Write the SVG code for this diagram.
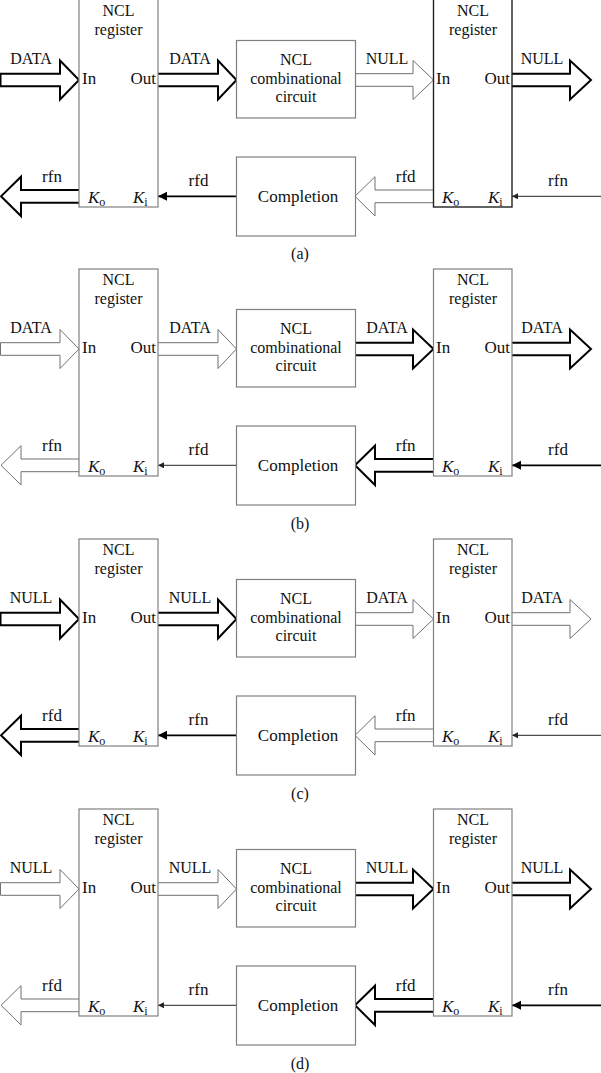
<svg xmlns="http://www.w3.org/2000/svg" width="601" height="1073" viewBox="0 0 601 1073">
<defs>
<style>
text{font-family:"Liberation Serif","Times New Roman",serif;fill:#111}
.t{font-size:17px}
.n{font-size:16px;text-anchor:middle}
.lb{font-size:16px;text-anchor:middle}
.c{text-anchor:middle}
.e{text-anchor:end}
.k{font-style:italic}
.sub{font-size:12px;font-style:normal}
.box{fill:#fff;stroke:#808080;stroke-width:1.2}
.boxd{fill:#fff;stroke:#222;stroke-width:1.4}
.fa{fill:#fff;stroke:#000;stroke-width:2;stroke-linejoin:miter}
.ft{fill:#fff;stroke:#707070;stroke-width:1}
.la{stroke:#000;stroke-width:1.8;fill:none}
.lt{stroke:#222;stroke-width:1;fill:none}
</style>
<marker id="hA" markerUnits="userSpaceOnUse" markerWidth="10" markerHeight="10" refX="9" refY="4.5" orient="auto"><path d="M0,0 L9,4.5 L0,9 Z" fill="#000"/></marker>
<marker id="hT" markerUnits="userSpaceOnUse" markerWidth="7" markerHeight="7" refX="6" refY="3" orient="auto"><path d="M0,0 L6,3 L0,6 Z" fill="#222"/></marker>
</defs>

<!-- ============ Panel (a) ============ -->
<g id="panel-a">
<g id="a-connectors">
<path class="fa" d="M0.5,73.7 L60,73.7 L60,60.5 L79,80 L60,99.5 L60,86.3 L0.5,86.3 Z"/>
<path class="fa" d="M158,73.7 L218,73.7 L218,60.5 L236.5,80 L218,99.5 L218,86.3 L158,86.3"/>
<path class="ft" d="M356,73.7 L413,73.7 L413,60.5 L433.5,80 L413,99.5 L413,86.3 L356,86.3"/>
<path class="fa" d="M512,73.7 L570,73.7 L570,60.5 L591,80 L570,99.5 L570,86.3 L512,86.3"/>
<path class="fa" d="M79,190 L21,190 L21,176.7 L1,196.3 L21,216 L21,202.7 L79,202.7"/>
<line class="la" x1="236.5" y1="196.3" x2="158" y2="196.3" marker-end="url(#hA)"/>
<path class="ft" d="M434,190 L375,190 L375,176.7 L355,196.3 L375,216 L375,202.7 L434,202.7"/>
<line class="lt" x1="601" y1="196.3" x2="512" y2="196.3" marker-end="url(#hT)"/>
<text class="lb" x="31" y="64">DATA</text>
<text class="lb" x="190" y="64">DATA</text>
<text class="lb" x="387" y="64">NULL</text>
<text class="lb" x="542" y="64">NULL</text>
<text class="t c" x="52" y="182">rfn</text>
<text class="t c" x="198.5" y="186">rfd</text>
<text class="t c" x="405.7" y="182">rfd</text>
<text class="t c" x="558" y="186">rfn</text>
</g>
<g id="a-reg1">
<rect class="box" x="79" y="-1" width="79" height="208"/>
<text class="n" x="118.5" y="16">NCL</text>
<text class="n" x="118.5" y="34.5">register</text>
<text class="t" x="82" y="84">In</text>
<text class="t e" x="156" y="84">Out</text>
<text class="t k" x="88" y="203">K<tspan class="sub" dy="3">o</tspan></text>
<text class="t k" x="133" y="203">K<tspan class="sub" dy="3">i</tspan></text>
</g>
<g id="a-comb">
<rect class="box" x="236.5" y="40.5" width="119" height="77.5"/>
<text class="n" x="296" y="65">NCL</text>
<text class="n" x="296" y="83.5">combinational</text>
<text class="n" x="296" y="102">circuit</text>
</g>
<g id="a-comp">
<rect class="box" x="236.5" y="157" width="119" height="79"/>
<text class="t c" x="298" y="202">Completion</text>
</g>
<g id="a-reg2">
<rect class="boxd" x="433.5" y="-1" width="78.5" height="208"/>
<text class="n" x="473" y="16">NCL</text>
<text class="n" x="473" y="34.5">register</text>
<text class="t" x="436" y="84">In</text>
<text class="t e" x="510" y="84">Out</text>
<text class="t k" x="442" y="203">K<tspan class="sub" dy="3">o</tspan></text>
<text class="t k" x="488" y="203">K<tspan class="sub" dy="3">i</tspan></text>
</g>
<text id="a-caption" class="lb" x="300" y="259">(a)</text>
</g>

<!-- ============ Panel (b) ============ -->
<g id="panel-b" transform="translate(0,269)">
<g id="b-connectors">
<path class="ft" d="M0.5,73.7 L60,73.7 L60,60.5 L79,80 L60,99.5 L60,86.3 L0.5,86.3 Z"/>
<path class="ft" d="M158,73.7 L218,73.7 L218,60.5 L236.5,80 L218,99.5 L218,86.3 L158,86.3"/>
<path class="fa" d="M356,73.7 L413,73.7 L413,60.5 L433.5,80 L413,99.5 L413,86.3 L356,86.3"/>
<path class="fa" d="M512,73.7 L570,73.7 L570,60.5 L591,80 L570,99.5 L570,86.3 L512,86.3"/>
<path class="ft" d="M79,190 L21,190 L21,176.7 L1,196.3 L21,216 L21,202.7 L79,202.7"/>
<line class="lt" x1="236.5" y1="196.3" x2="158" y2="196.3" marker-end="url(#hT)"/>
<path class="fa" d="M434,190 L375,190 L375,176.7 L355,196.3 L375,216 L375,202.7 L434,202.7"/>
<line class="la" x1="601" y1="196.3" x2="512" y2="196.3" marker-end="url(#hA)"/>
<text class="lb" x="31" y="64">DATA</text>
<text class="lb" x="190" y="64">DATA</text>
<text class="lb" x="387" y="64">DATA</text>
<text class="lb" x="542" y="64">DATA</text>
<text class="t c" x="52" y="182">rfn</text>
<text class="t c" x="198.5" y="186">rfd</text>
<text class="t c" x="405.7" y="182">rfn</text>
<text class="t c" x="558" y="186">rfd</text>
</g>
<g id="b-reg1">
<rect class="box" x="79" y="0" width="79" height="207"/>
<text class="n" x="118.5" y="16">NCL</text>
<text class="n" x="118.5" y="34.5">register</text>
<text class="t" x="82" y="84">In</text>
<text class="t e" x="156" y="84">Out</text>
<text class="t k" x="88" y="203">K<tspan class="sub" dy="3">o</tspan></text>
<text class="t k" x="133" y="203">K<tspan class="sub" dy="3">i</tspan></text>
</g>
<g id="b-comb">
<rect class="box" x="236.5" y="40.5" width="119" height="77.5"/>
<text class="n" x="296" y="65">NCL</text>
<text class="n" x="296" y="83.5">combinational</text>
<text class="n" x="296" y="102">circuit</text>
</g>
<g id="b-comp">
<rect class="box" x="236.5" y="157" width="119" height="79"/>
<text class="t c" x="298" y="202">Completion</text>
</g>
<g id="b-reg2">
<rect class="box" x="433.5" y="0" width="78.5" height="207"/>
<text class="n" x="473" y="16">NCL</text>
<text class="n" x="473" y="34.5">register</text>
<text class="t" x="436" y="84">In</text>
<text class="t e" x="510" y="84">Out</text>
<text class="t k" x="442" y="203">K<tspan class="sub" dy="3">o</tspan></text>
<text class="t k" x="488" y="203">K<tspan class="sub" dy="3">i</tspan></text>
</g>
<text id="b-caption" class="lb" x="300" y="260">(b)</text>
</g>

<!-- ============ Panel (c) ============ -->
<g id="panel-c" transform="translate(0,539)">
<g id="c-connectors">
<path class="fa" d="M0.5,73.7 L60,73.7 L60,60.5 L79,80 L60,99.5 L60,86.3 L0.5,86.3 Z"/>
<path class="fa" d="M158,73.7 L218,73.7 L218,60.5 L236.5,80 L218,99.5 L218,86.3 L158,86.3"/>
<path class="ft" d="M356,73.7 L413,73.7 L413,60.5 L433.5,80 L413,99.5 L413,86.3 L356,86.3"/>
<path class="ft" d="M512,73.7 L570,73.7 L570,60.5 L591,80 L570,99.5 L570,86.3 L512,86.3"/>
<path class="fa" d="M79,190 L21,190 L21,176.7 L1,196.3 L21,216 L21,202.7 L79,202.7"/>
<line class="la" x1="236.5" y1="196.3" x2="158" y2="196.3" marker-end="url(#hA)"/>
<path class="ft" d="M434,190 L375,190 L375,176.7 L355,196.3 L375,216 L375,202.7 L434,202.7"/>
<line class="lt" x1="601" y1="196.3" x2="512" y2="196.3" marker-end="url(#hT)"/>
<text class="lb" x="31" y="64">NULL</text>
<text class="lb" x="190" y="64">NULL</text>
<text class="lb" x="387" y="64">DATA</text>
<text class="lb" x="542" y="64">DATA</text>
<text class="t c" x="52" y="182">rfd</text>
<text class="t c" x="198.5" y="186">rfn</text>
<text class="t c" x="405.7" y="182">rfn</text>
<text class="t c" x="558" y="186">rfd</text>
</g>
<g id="c-reg1">
<rect class="box" x="79" y="0" width="79" height="207"/>
<text class="n" x="118.5" y="16">NCL</text>
<text class="n" x="118.5" y="34.5">register</text>
<text class="t" x="82" y="84">In</text>
<text class="t e" x="156" y="84">Out</text>
<text class="t k" x="88" y="203">K<tspan class="sub" dy="3">o</tspan></text>
<text class="t k" x="133" y="203">K<tspan class="sub" dy="3">i</tspan></text>
</g>
<g id="c-comb">
<rect class="box" x="236.5" y="40.5" width="119" height="77.5"/>
<text class="n" x="296" y="65">NCL</text>
<text class="n" x="296" y="83.5">combinational</text>
<text class="n" x="296" y="102">circuit</text>
</g>
<g id="c-comp">
<rect class="box" x="236.5" y="157" width="119" height="79"/>
<text class="t c" x="298" y="202">Completion</text>
</g>
<g id="c-reg2">
<rect class="box" x="433.5" y="0" width="78.5" height="207"/>
<text class="n" x="473" y="16">NCL</text>
<text class="n" x="473" y="34.5">register</text>
<text class="t" x="436" y="84">In</text>
<text class="t e" x="510" y="84">Out</text>
<text class="t k" x="442" y="203">K<tspan class="sub" dy="3">o</tspan></text>
<text class="t k" x="488" y="203">K<tspan class="sub" dy="3">i</tspan></text>
</g>
<text id="c-caption" class="lb" x="300" y="260">(c)</text>
</g>

<!-- ============ Panel (d) ============ -->
<g id="panel-d" transform="translate(0,809)">
<g id="d-connectors">
<path class="ft" d="M0.5,73.7 L60,73.7 L60,60.5 L79,80 L60,99.5 L60,86.3 L0.5,86.3 Z"/>
<path class="ft" d="M158,73.7 L218,73.7 L218,60.5 L236.5,80 L218,99.5 L218,86.3 L158,86.3"/>
<path class="fa" d="M356,73.7 L413,73.7 L413,60.5 L433.5,80 L413,99.5 L413,86.3 L356,86.3"/>
<path class="fa" d="M512,73.7 L570,73.7 L570,60.5 L591,80 L570,99.5 L570,86.3 L512,86.3"/>
<path class="ft" d="M79,190 L21,190 L21,176.7 L1,196.3 L21,216 L21,202.7 L79,202.7"/>
<line class="lt" x1="236.5" y1="196.3" x2="158" y2="196.3" marker-end="url(#hT)"/>
<path class="fa" d="M434,190 L375,190 L375,176.7 L355,196.3 L375,216 L375,202.7 L434,202.7"/>
<line class="la" x1="601" y1="196.3" x2="512" y2="196.3" marker-end="url(#hA)"/>
<text class="lb" x="31" y="64">NULL</text>
<text class="lb" x="190" y="64">NULL</text>
<text class="lb" x="387" y="64">NULL</text>
<text class="lb" x="542" y="64">NULL</text>
<text class="t c" x="52" y="182">rfd</text>
<text class="t c" x="198.5" y="186">rfn</text>
<text class="t c" x="405.7" y="182">rfd</text>
<text class="t c" x="558" y="186">rfn</text>
</g>
<g id="d-reg1">
<rect class="box" x="79" y="0" width="79" height="207"/>
<text class="n" x="118.5" y="16">NCL</text>
<text class="n" x="118.5" y="34.5">register</text>
<text class="t" x="82" y="84">In</text>
<text class="t e" x="156" y="84">Out</text>
<text class="t k" x="88" y="203">K<tspan class="sub" dy="3">o</tspan></text>
<text class="t k" x="133" y="203">K<tspan class="sub" dy="3">i</tspan></text>
</g>
<g id="d-comb">
<rect class="box" x="236.5" y="40.5" width="119" height="77.5"/>
<text class="n" x="296" y="65">NCL</text>
<text class="n" x="296" y="83.5">combinational</text>
<text class="n" x="296" y="102">circuit</text>
</g>
<g id="d-comp">
<rect class="box" x="236.5" y="157" width="119" height="79"/>
<text class="t c" x="298" y="202">Completion</text>
</g>
<g id="d-reg2">
<rect class="box" x="433.5" y="0" width="78.5" height="207"/>
<text class="n" x="473" y="16">NCL</text>
<text class="n" x="473" y="34.5">register</text>
<text class="t" x="436" y="84">In</text>
<text class="t e" x="510" y="84">Out</text>
<text class="t k" x="442" y="203">K<tspan class="sub" dy="3">o</tspan></text>
<text class="t k" x="488" y="203">K<tspan class="sub" dy="3">i</tspan></text>
</g>
<text id="d-caption" class="lb" x="300" y="260">(d)</text>
</g>
</svg>
